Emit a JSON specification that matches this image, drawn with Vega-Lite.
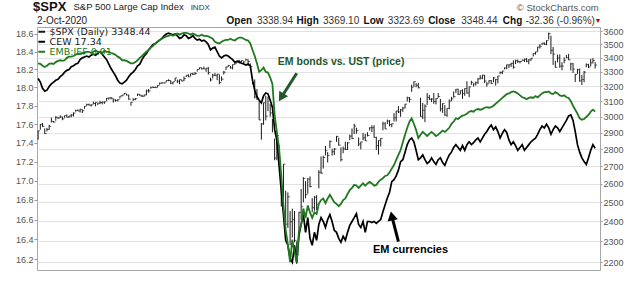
{
"$schema":"https://vega.github.io/schema/vega-lite/v6.json",
"width":563,"height":243,
"autosize":"none",
"padding":{"left":37,"top":27,"right":40,"bottom":15},
"background":"white",
"config":{"font":"Liberation Sans","view":{"stroke":"#a8a8a8","strokeWidth":1},
"axis":{"labelFont":"Liberation Sans","labelFontSize":9,"labelColor":"#555555","tickColor":"#999999","gridColor":"#e2e2e2","domain":false,"tickSize":3,"labelPadding":1}},
"data":{"values":[
{"d":"2019-10-03","h":2911,"l":2856,"c":2911,"cew":18.10,"emb":0.986},
{"d":"2019-10-04","h":2953,"l":2918,"c":2952,"cew":18.06,"emb":0.985},
{"d":"2019-10-07","h":2959,"l":2935,"c":2939,"cew":17.99,"emb":0.982},
{"d":"2019-10-08","h":2925,"l":2892,"c":2893,"cew":17.96,"emb":0.980},
{"d":"2019-10-09","h":2929,"l":2907,"c":2919,"cew":17.97,"emb":0.982},
{"d":"2019-10-10","h":2948,"l":2917,"c":2938,"cew":18.01,"emb":0.985},
{"d":"2019-10-11","h":2994,"l":2963,"c":2970,"cew":18.04,"emb":0.986},
{"d":"2019-10-14","h":2972,"l":2962,"c":2966,"cew":18.06,"emb":0.985},
{"d":"2019-10-15","h":3003,"l":2974,"c":2996,"cew":18.08,"emb":0.988},
{"d":"2019-10-16","h":2997,"l":2986,"c":2990,"cew":18.09,"emb":0.990},
{"d":"2019-10-17","h":3008,"l":2991,"c":2998,"cew":18.12,"emb":0.991},
{"d":"2019-10-18","h":3000,"l":2977,"c":2986,"cew":18.14,"emb":0.990},
{"d":"2019-10-21","h":3007,"l":2992,"c":3007,"cew":18.17,"emb":0.991},
{"d":"2019-10-22","h":3014,"l":2995,"c":2996,"cew":18.19,"emb":0.995},
{"d":"2019-10-23","h":3005,"l":2992,"c":3004,"cew":18.20,"emb":0.997},
{"d":"2019-10-24","h":3016,"l":2996,"c":3010,"cew":18.23,"emb":0.997},
{"d":"2019-10-25","h":3027,"l":3001,"c":3023,"cew":18.24,"emb":0.998},
{"d":"2019-10-28","h":3044,"l":3032,"c":3039,"cew":18.26,"emb":1.000},
{"d":"2019-10-29","h":3047,"l":3035,"c":3036,"cew":18.27,"emb":1.002},
{"d":"2019-10-30","h":3050,"l":3026,"c":3047,"cew":18.31,"emb":1.002},
{"d":"2019-10-31","h":3047,"l":3023,"c":3038,"cew":18.33,"emb":1.003},
{"d":"2019-11-01","h":3067,"l":3050,"c":3067,"cew":18.34,"emb":1.003},
{"d":"2019-11-04","h":3084,"l":3070,"c":3078,"cew":18.35,"emb":1.005},
{"d":"2019-11-05","h":3084,"l":3071,"c":3075,"cew":18.34,"emb":1.005},
{"d":"2019-11-06","h":3079,"l":3065,"c":3076,"cew":18.36,"emb":1.003},
{"d":"2019-11-07","h":3097,"l":3080,"c":3085,"cew":18.37,"emb":1.005},
{"d":"2019-11-08","h":3093,"l":3066,"c":3093,"cew":18.36,"emb":1.007},
{"d":"2019-11-11","h":3088,"l":3075,"c":3087,"cew":18.38,"emb":1.005},
{"d":"2019-11-12","h":3103,"l":3081,"c":3091,"cew":18.40,"emb":1.005},
{"d":"2019-11-13","h":3098,"l":3079,"c":3094,"cew":18.37,"emb":1.003},
{"d":"2019-11-14","h":3098,"l":3083,"c":3096,"cew":18.34,"emb":1.007},
{"d":"2019-11-15","h":3121,"l":3102,"c":3120,"cew":18.31,"emb":1.005},
{"d":"2019-11-18","h":3124,"l":3110,"c":3122,"cew":18.26,"emb":1.005},
{"d":"2019-11-19","h":3128,"l":3113,"c":3120,"cew":18.21,"emb":1.003},
{"d":"2019-11-20","h":3119,"l":3091,"c":3108,"cew":18.17,"emb":1.002},
{"d":"2019-11-21","h":3112,"l":3097,"c":3104,"cew":18.13,"emb":1.000},
{"d":"2019-11-22","h":3112,"l":3099,"c":3110,"cew":18.08,"emb":0.997},
{"d":"2019-11-25","h":3134,"l":3118,"c":3134,"cew":18.05,"emb":0.995},
{"d":"2019-11-26","h":3142,"l":3132,"c":3141,"cew":18.04,"emb":0.991},
{"d":"2019-11-27","h":3154,"l":3143,"c":3153,"cew":18.06,"emb":0.991},
{"d":"2019-11-29","h":3150,"l":3139,"c":3141,"cew":18.08,"emb":0.990},
{"d":"2019-12-02","h":3144,"l":3110,"c":3113,"cew":18.12,"emb":0.988},
{"d":"2019-12-03","h":3094,"l":3070,"c":3093,"cew":18.15,"emb":0.986},
{"d":"2019-12-04","h":3120,"l":3102,"c":3113,"cew":18.17,"emb":0.986},
{"d":"2019-12-05","h":3120,"l":3107,"c":3117,"cew":18.20,"emb":0.988},
{"d":"2019-12-06","h":3150,"l":3134,"c":3146,"cew":18.24,"emb":0.991},
{"d":"2019-12-09","h":3148,"l":3135,"c":3136,"cew":18.26,"emb":0.995},
{"d":"2019-12-10","h":3143,"l":3127,"c":3133,"cew":18.31,"emb":0.998},
{"d":"2019-12-11","h":3143,"l":3130,"c":3142,"cew":18.35,"emb":1.002},
{"d":"2019-12-12","h":3177,"l":3139,"c":3169,"cew":18.38,"emb":1.005},
{"d":"2019-12-13","h":3182,"l":3157,"c":3169,"cew":18.42,"emb":1.008},
{"d":"2019-12-16","h":3197,"l":3184,"c":3191,"cew":18.45,"emb":1.012},
{"d":"2019-12-17","h":3199,"l":3189,"c":3192,"cew":18.48,"emb":1.015},
{"d":"2019-12-18","h":3198,"l":3189,"c":3191,"cew":18.49,"emb":1.019},
{"d":"2019-12-19","h":3206,"l":3192,"c":3206,"cew":18.51,"emb":1.022},
{"d":"2019-12-20","h":3226,"l":3211,"c":3221,"cew":18.53,"emb":1.025},
{"d":"2019-12-23","h":3227,"l":3217,"c":3224,"cew":18.55,"emb":1.027},
{"d":"2019-12-24","h":3226,"l":3220,"c":3223,"cew":18.58,"emb":1.029},
{"d":"2019-12-26","h":3240,"l":3227,"c":3240,"cew":18.60,"emb":1.031},
{"d":"2019-12-27","h":3248,"l":3235,"c":3240,"cew":18.61,"emb":1.032},
{"d":"2019-12-30","h":3241,"l":3215,"c":3222,"cew":18.60,"emb":1.034},
{"d":"2019-12-31","h":3231,"l":3213,"c":3231,"cew":18.59,"emb":1.032},
{"d":"2020-01-02","h":3258,"l":3235,"c":3258,"cew":18.60,"emb":1.034},
{"d":"2020-01-03","h":3246,"l":3222,"c":3235,"cew":18.58,"emb":1.036},
{"d":"2020-01-06","h":3247,"l":3214,"c":3246,"cew":18.55,"emb":1.034},
{"d":"2020-01-07","h":3245,"l":3233,"c":3237,"cew":18.56,"emb":1.036},
{"d":"2020-01-08","h":3267,"l":3236,"c":3253,"cew":18.59,"emb":1.037},
{"d":"2020-01-09","h":3276,"l":3263,"c":3275,"cew":18.58,"emb":1.037},
{"d":"2020-01-10","h":3283,"l":3264,"c":3265,"cew":18.55,"emb":1.036},
{"d":"2020-01-13","h":3288,"l":3268,"c":3288,"cew":18.56,"emb":1.034},
{"d":"2020-01-14","h":3294,"l":3277,"c":3283,"cew":18.58,"emb":1.036},
{"d":"2020-01-15","h":3299,"l":3280,"c":3289,"cew":18.55,"emb":1.034},
{"d":"2020-01-16","h":3317,"l":3302,"c":3317,"cew":18.53,"emb":1.032},
{"d":"2020-01-17","h":3330,"l":3318,"c":3330,"cew":18.54,"emb":1.032},
{"d":"2020-01-21","h":3330,"l":3316,"c":3321,"cew":18.52,"emb":1.034},
{"d":"2020-01-22","h":3337,"l":3320,"c":3321,"cew":18.53,"emb":1.032},
{"d":"2020-01-23","h":3326,"l":3301,"c":3326,"cew":18.51,"emb":1.032},
{"d":"2020-01-24","h":3334,"l":3281,"c":3295,"cew":18.48,"emb":1.031},
{"d":"2020-01-27","h":3259,"l":3234,"c":3244,"cew":18.42,"emb":1.029},
{"d":"2020-01-28","h":3286,"l":3254,"c":3276,"cew":18.44,"emb":1.027},
{"d":"2020-01-29","h":3293,"l":3271,"c":3273,"cew":18.45,"emb":1.022},
{"d":"2020-01-30","h":3285,"l":3242,"c":3284,"cew":18.40,"emb":1.020},
{"d":"2020-01-31","h":3282,"l":3214,"c":3226,"cew":18.35,"emb":1.019},
{"d":"2020-02-03","h":3268,"l":3235,"c":3249,"cew":18.33,"emb":1.022},
{"d":"2020-02-04","h":3306,"l":3281,"c":3298,"cew":18.35,"emb":1.024},
{"d":"2020-02-05","h":3337,"l":3313,"c":3334,"cew":18.36,"emb":1.025},
{"d":"2020-02-06","h":3347,"l":3335,"c":3346,"cew":18.35,"emb":1.025},
{"d":"2020-02-07","h":3341,"l":3323,"c":3328,"cew":18.33,"emb":1.027},
{"d":"2020-02-10","h":3352,"l":3317,"c":3352,"cew":18.31,"emb":1.025},
{"d":"2020-02-11","h":3375,"l":3352,"c":3358,"cew":18.28,"emb":1.024},
{"d":"2020-02-12","h":3381,"l":3366,"c":3380,"cew":18.29,"emb":1.027},
{"d":"2020-02-13","h":3385,"l":3360,"c":3374,"cew":18.28,"emb":1.029},
{"d":"2020-02-14","h":3381,"l":3369,"c":3380,"cew":18.27,"emb":1.029},
{"d":"2020-02-18","h":3375,"l":3356,"c":3370,"cew":18.26,"emb":1.027},
{"d":"2020-02-19","h":3393,"l":3379,"c":3386,"cew":18.25,"emb":1.025},
{"d":"2020-02-20","h":3389,"l":3342,"c":3373,"cew":18.26,"emb":1.024},
{"d":"2020-02-21","h":3360,"l":3328,"c":3338,"cew":18.24,"emb":1.019},
{"d":"2020-02-24","h":3259,"l":3215,"c":3226,"cew":18.08,"emb":1.008},
{"d":"2020-02-25","h":3247,"l":3119,"c":3128,"cew":17.97,"emb":0.998},
{"d":"2020-02-26","h":3182,"l":3109,"c":3116,"cew":17.90,"emb":0.986},
{"d":"2020-02-27","h":3098,"l":2977,"c":2979,"cew":17.86,"emb":0.972},
{"d":"2020-02-28","h":2959,"l":2856,"c":2954,"cew":17.83,"emb":0.975},
{"d":"2020-03-02","h":3091,"l":2948,"c":3090,"cew":17.91,"emb":0.979},
{"d":"2020-03-03","h":3136,"l":2976,"c":3003,"cew":17.94,"emb":0.972},
{"d":"2020-03-04","h":3130,"l":3035,"c":3130,"cew":17.93,"emb":0.971},
{"d":"2020-03-05","h":3083,"l":2999,"c":3024,"cew":17.86,"emb":0.963},
{"d":"2020-03-06","h":2985,"l":2901,"c":2972,"cew":17.78,"emb":0.953},
{"d":"2020-03-09","h":2863,"l":2734,"c":2747,"cew":17.54,"emb":0.905},
{"d":"2020-03-10","h":2883,"l":2734,"c":2882,"cew":17.43,"emb":0.880},
{"d":"2020-03-11","h":2825,"l":2707,"c":2741,"cew":17.16,"emb":0.857},
{"d":"2020-03-12","h":2660,"l":2478,"c":2481,"cew":16.90,"emb":0.819},
{"d":"2020-03-13","h":2711,"l":2492,"c":2711,"cew":16.65,"emb":0.779},
{"d":"2020-03-16","h":2562,"l":2380,"c":2386,"cew":16.39,"emb":0.748},
{"d":"2020-03-17","h":2553,"l":2367,"c":2529,"cew":16.34,"emb":0.730},
{"d":"2020-03-18","h":2453,"l":2281,"c":2398,"cew":16.21,"emb":0.709},
{"d":"2020-03-19","h":2466,"l":2319,"c":2409,"cew":16.17,"emb":0.736},
{"d":"2020-03-20","h":2454,"l":2295,"c":2305,"cew":16.34,"emb":0.721},
{"d":"2020-03-23","h":2300,"l":2192,"c":2237,"cew":16.17,"emb":0.709},
{"d":"2020-03-24","h":2449,"l":2345,"c":2447,"cew":16.44,"emb":0.746},
{"d":"2020-03-25","h":2571,"l":2408,"c":2476,"cew":16.55,"emb":0.754},
{"d":"2020-03-26","h":2637,"l":2500,"c":2630,"cew":16.65,"emb":0.775},
{"d":"2020-03-27","h":2615,"l":2521,"c":2541,"cew":16.47,"emb":0.763},
{"d":"2020-03-30","h":2631,"l":2546,"c":2627,"cew":16.62,"emb":0.779},
{"d":"2020-03-31","h":2641,"l":2581,"c":2585,"cew":16.41,"emb":0.770},
{"d":"2020-04-01","h":2522,"l":2447,"c":2471,"cew":16.34,"emb":0.763},
{"d":"2020-04-02","h":2533,"l":2455,"c":2527,"cew":16.47,"emb":0.770},
{"d":"2020-04-03","h":2538,"l":2459,"c":2489,"cew":16.39,"emb":0.768},
{"d":"2020-04-06","h":2677,"l":2575,"c":2664,"cew":16.55,"emb":0.781},
{"d":"2020-04-07","h":2756,"l":2657,"c":2660,"cew":16.62,"emb":0.786},
{"d":"2020-04-08","h":2760,"l":2686,"c":2750,"cew":16.58,"emb":0.788},
{"d":"2020-04-09","h":2819,"l":2762,"c":2790,"cew":16.52,"emb":0.782},
{"d":"2020-04-13","h":2782,"l":2721,"c":2762,"cew":16.60,"emb":0.788},
{"d":"2020-04-14","h":2851,"l":2805,"c":2846,"cew":16.65,"emb":0.793},
{"d":"2020-04-15","h":2801,"l":2761,"c":2784,"cew":16.58,"emb":0.788},
{"d":"2020-04-16","h":2806,"l":2764,"c":2800,"cew":16.49,"emb":0.783},
{"d":"2020-04-17","h":2880,"l":2843,"c":2875,"cew":16.47,"emb":0.781},
{"d":"2020-04-20","h":2868,"l":2820,"c":2823,"cew":16.41,"emb":0.778},
{"d":"2020-04-21","h":2810,"l":2727,"c":2737,"cew":16.37,"emb":0.781},
{"d":"2020-04-22","h":2815,"l":2775,"c":2800,"cew":16.43,"emb":0.786},
{"d":"2020-04-23","h":2844,"l":2794,"c":2798,"cew":16.39,"emb":0.788},
{"d":"2020-04-24","h":2842,"l":2794,"c":2837,"cew":16.47,"emb":0.794},
{"d":"2020-04-27","h":2887,"l":2853,"c":2878,"cew":16.54,"emb":0.799},
{"d":"2020-04-28","h":2925,"l":2861,"c":2863,"cew":16.58,"emb":0.802},
{"d":"2020-04-29","h":2954,"l":2891,"c":2940,"cew":16.62,"emb":0.806},
{"d":"2020-04-30","h":2930,"l":2893,"c":2912,"cew":16.66,"emb":0.805},
{"d":"2020-05-01","h":2870,"l":2817,"c":2830,"cew":16.55,"emb":0.802},
{"d":"2020-05-04","h":2844,"l":2798,"c":2842,"cew":16.52,"emb":0.805},
{"d":"2020-05-05","h":2898,"l":2852,"c":2868,"cew":16.58,"emb":0.808},
{"d":"2020-05-06","h":2891,"l":2848,"c":2849,"cew":16.47,"emb":0.805},
{"d":"2020-05-07","h":2902,"l":2876,"c":2882,"cew":16.58,"emb":0.808},
{"d":"2020-05-08","h":2932,"l":2913,"c":2930,"cew":16.58,"emb":0.810},
{"d":"2020-05-11","h":2945,"l":2903,"c":2930,"cew":16.57,"emb":0.808},
{"d":"2020-05-12","h":2945,"l":2869,"c":2870,"cew":16.58,"emb":0.805},
{"d":"2020-05-13","h":2874,"l":2794,"c":2820,"cew":16.56,"emb":0.806},
{"d":"2020-05-14","h":2852,"l":2767,"c":2852,"cew":16.58,"emb":0.810},
{"d":"2020-05-15","h":2865,"l":2816,"c":2864,"cew":16.60,"emb":0.813},
{"d":"2020-05-18","h":2968,"l":2914,"c":2954,"cew":16.68,"emb":0.815},
{"d":"2020-05-19","h":2965,"l":2922,"c":2922,"cew":16.75,"emb":0.818},
{"d":"2020-05-20","h":2981,"l":2953,"c":2972,"cew":16.82,"emb":0.819},
{"d":"2020-05-21","h":2978,"l":2938,"c":2949,"cew":16.88,"emb":0.823},
{"d":"2020-05-22","h":2956,"l":2933,"c":2955,"cew":16.99,"emb":0.828},
{"d":"2020-05-26","h":3022,"l":2969,"c":2992,"cew":17.01,"emb":0.833},
{"d":"2020-05-27","h":3037,"l":2969,"c":3036,"cew":17.05,"emb":0.840},
{"d":"2020-05-28","h":3068,"l":3023,"c":3030,"cew":17.11,"emb":0.847},
{"d":"2020-05-29","h":3049,"l":2999,"c":3044,"cew":17.20,"emb":0.854},
{"d":"2020-06-01","h":3063,"l":3031,"c":3056,"cew":17.22,"emb":0.865},
{"d":"2020-06-02","h":3082,"l":3052,"c":3081,"cew":17.30,"emb":0.876},
{"d":"2020-06-03","h":3130,"l":3098,"c":3123,"cew":17.38,"emb":0.886},
{"d":"2020-06-04","h":3128,"l":3091,"c":3112,"cew":17.43,"emb":0.895},
{"d":"2020-06-05","h":3211,"l":3163,"c":3194,"cew":17.45,"emb":0.900},
{"d":"2020-06-08","h":3233,"l":3197,"c":3232,"cew":17.41,"emb":0.892},
{"d":"2020-06-09","h":3222,"l":3194,"c":3207,"cew":17.32,"emb":0.883},
{"d":"2020-06-10","h":3224,"l":3186,"c":3190,"cew":17.22,"emb":0.871},
{"d":"2020-06-11","h":3123,"l":2999,"c":3002,"cew":17.24,"emb":0.876},
{"d":"2020-06-12","h":3089,"l":2984,"c":3041,"cew":17.27,"emb":0.880},
{"d":"2020-06-15","h":3079,"l":2965,"c":3067,"cew":17.22,"emb":0.877},
{"d":"2020-06-16","h":3154,"l":3076,"c":3125,"cew":17.18,"emb":0.874},
{"d":"2020-06-17","h":3141,"l":3108,"c":3113,"cew":17.20,"emb":0.877},
{"d":"2020-06-18","h":3120,"l":3094,"c":3115,"cew":17.24,"emb":0.880},
{"d":"2020-06-19","h":3155,"l":3083,"c":3098,"cew":17.20,"emb":0.877},
{"d":"2020-06-22","h":3120,"l":3079,"c":3118,"cew":17.17,"emb":0.874},
{"d":"2020-06-23","h":3154,"l":3123,"c":3131,"cew":17.22,"emb":0.876},
{"d":"2020-06-24","h":3115,"l":3033,"c":3050,"cew":17.24,"emb":0.879},
{"d":"2020-06-25","h":3086,"l":3024,"c":3084,"cew":17.19,"emb":0.882},
{"d":"2020-06-26","h":3074,"l":3005,"c":3009,"cew":17.16,"emb":0.880},
{"d":"2020-06-29","h":3054,"l":2999,"c":3053,"cew":17.22,"emb":0.883},
{"d":"2020-06-30","h":3112,"l":3048,"c":3100,"cew":17.27,"emb":0.886},
{"d":"2020-07-01","h":3129,"l":3101,"c":3116,"cew":17.30,"emb":0.892},
{"d":"2020-07-02","h":3165,"l":3124,"c":3130,"cew":17.35,"emb":0.895},
{"d":"2020-07-06","h":3182,"l":3155,"c":3180,"cew":17.38,"emb":0.900},
{"d":"2020-07-07","h":3184,"l":3142,"c":3145,"cew":17.35,"emb":0.899},
{"d":"2020-07-08","h":3172,"l":3145,"c":3170,"cew":17.32,"emb":0.902},
{"d":"2020-07-09","h":3180,"l":3116,"c":3152,"cew":17.37,"emb":0.904},
{"d":"2020-07-10","h":3186,"l":3136,"c":3185,"cew":17.32,"emb":0.905},
{"d":"2020-07-13","h":3235,"l":3150,"c":3155,"cew":17.38,"emb":0.907},
{"d":"2020-07-14","h":3198,"l":3127,"c":3197,"cew":17.41,"emb":0.910},
{"d":"2020-07-15","h":3238,"l":3210,"c":3227,"cew":17.38,"emb":0.911},
{"d":"2020-07-16","h":3220,"l":3198,"c":3216,"cew":17.40,"emb":0.910},
{"d":"2020-07-17","h":3233,"l":3205,"c":3225,"cew":17.43,"emb":0.913},
{"d":"2020-07-20","h":3258,"l":3216,"c":3251,"cew":17.45,"emb":0.914},
{"d":"2020-07-21","h":3277,"l":3247,"c":3257,"cew":17.41,"emb":0.913},
{"d":"2020-07-22","h":3280,"l":3249,"c":3276,"cew":17.45,"emb":0.914},
{"d":"2020-07-23","h":3279,"l":3222,"c":3236,"cew":17.49,"emb":0.916},
{"d":"2020-07-24","h":3228,"l":3197,"c":3216,"cew":17.52,"emb":0.917},
{"d":"2020-07-27","h":3242,"l":3219,"c":3239,"cew":17.56,"emb":0.916},
{"d":"2020-07-28","h":3243,"l":3216,"c":3218,"cew":17.59,"emb":0.917},
{"d":"2020-07-29","h":3264,"l":3228,"c":3258,"cew":17.54,"emb":0.919},
{"d":"2020-07-30","h":3250,"l":3205,"c":3246,"cew":17.57,"emb":0.922},
{"d":"2020-07-31","h":3272,"l":3220,"c":3271,"cew":17.52,"emb":0.925},
{"d":"2020-08-03","h":3302,"l":3284,"c":3295,"cew":17.45,"emb":0.928},
{"d":"2020-08-04","h":3307,"l":3283,"c":3306,"cew":17.50,"emb":0.931},
{"d":"2020-08-05","h":3331,"l":3318,"c":3328,"cew":17.54,"emb":0.934},
{"d":"2020-08-06","h":3352,"l":3318,"c":3349,"cew":17.51,"emb":0.937},
{"d":"2020-08-07","h":3352,"l":3328,"c":3351,"cew":17.43,"emb":0.938},
{"d":"2020-08-10","h":3364,"l":3335,"c":3360,"cew":17.38,"emb":0.940},
{"d":"2020-08-11","h":3382,"l":3323,"c":3333,"cew":17.41,"emb":0.941},
{"d":"2020-08-12","h":3387,"l":3355,"c":3380,"cew":17.37,"emb":0.940},
{"d":"2020-08-13","h":3388,"l":3363,"c":3373,"cew":17.32,"emb":0.938},
{"d":"2020-08-14","h":3378,"l":3361,"c":3373,"cew":17.35,"emb":0.935},
{"d":"2020-08-17","h":3388,"l":3379,"c":3382,"cew":17.38,"emb":0.932},
{"d":"2020-08-18","h":3395,"l":3370,"c":3389,"cew":17.32,"emb":0.931},
{"d":"2020-08-19","h":3399,"l":3369,"c":3375,"cew":17.35,"emb":0.929},
{"d":"2020-08-20","h":3391,"l":3354,"c":3385,"cew":17.38,"emb":0.931},
{"d":"2020-08-21","h":3399,"l":3379,"c":3397,"cew":17.41,"emb":0.932},
{"d":"2020-08-24","h":3433,"l":3410,"c":3431,"cew":17.43,"emb":0.931},
{"d":"2020-08-25","h":3444,"l":3423,"c":3443,"cew":17.45,"emb":0.934},
{"d":"2020-08-26","h":3481,"l":3444,"c":3479,"cew":17.49,"emb":0.932},
{"d":"2020-08-27","h":3501,"l":3468,"c":3485,"cew":17.54,"emb":0.935},
{"d":"2020-08-28","h":3510,"l":3495,"c":3508,"cew":17.58,"emb":0.938},
{"d":"2020-08-31","h":3514,"l":3494,"c":3500,"cew":17.56,"emb":0.940},
{"d":"2020-09-01","h":3529,"l":3493,"c":3527,"cew":17.60,"emb":0.940},
{"d":"2020-09-02","h":3588,"l":3535,"c":3580,"cew":17.56,"emb":0.941},
{"d":"2020-09-03","h":3564,"l":3427,"c":3455,"cew":17.49,"emb":0.938},
{"d":"2020-09-04","h":3479,"l":3349,"c":3427,"cew":17.54,"emb":0.937},
{"d":"2020-09-08","h":3379,"l":3330,"c":3332,"cew":17.58,"emb":0.940},
{"d":"2020-09-09","h":3424,"l":3367,"c":3399,"cew":17.56,"emb":0.938},
{"d":"2020-09-10","h":3425,"l":3329,"c":3340,"cew":17.52,"emb":0.935},
{"d":"2020-09-11","h":3368,"l":3311,"c":3341,"cew":17.56,"emb":0.934},
{"d":"2020-09-14","h":3403,"l":3361,"c":3383,"cew":17.60,"emb":0.935},
{"d":"2020-09-15","h":3420,"l":3398,"c":3401,"cew":17.64,"emb":0.932},
{"d":"2020-09-16","h":3429,"l":3384,"c":3385,"cew":17.69,"emb":0.931},
{"d":"2020-09-17","h":3365,"l":3310,"c":3357,"cew":17.70,"emb":0.926},
{"d":"2020-09-18","h":3363,"l":3292,"c":3319,"cew":17.64,"emb":0.919},
{"d":"2020-09-21","h":3286,"l":3230,"c":3281,"cew":17.52,"emb":0.913},
{"d":"2020-09-22","h":3321,"l":3286,"c":3315,"cew":17.38,"emb":0.907},
{"d":"2020-09-23","h":3324,"l":3232,"c":3237,"cew":17.30,"emb":0.900},
{"d":"2020-09-24","h":3279,"l":3209,"c":3247,"cew":17.24,"emb":0.898},
{"d":"2020-09-25","h":3306,"l":3228,"c":3298,"cew":17.20,"emb":0.899},
{"d":"2020-09-28","h":3360,"l":3332,"c":3351,"cew":17.17,"emb":0.902},
{"d":"2020-09-29","h":3357,"l":3327,"c":3335,"cew":17.24,"emb":0.905},
{"d":"2020-09-30","h":3393,"l":3340,"c":3363,"cew":17.32,"emb":0.910},
{"d":"2020-10-01","h":3398,"l":3361,"c":3381,"cew":17.38,"emb":0.913},
{"d":"2020-10-02","h":3369,"l":3324,"c":3348,"cew":17.34,"emb":0.910}
]},
"encoding":{"x":{"field":"d","type":"ordinal","scale":{"type":"band","paddingInner":0,"paddingOuter":0.85,"align":0,"round":false},
"axis":{"title":null,"values":["2019-11-01","2019-12-02","2020-01-02","2020-02-03","2020-03-02","2020-04-01","2020-05-01","2020-06-01","2020-07-01","2020-08-03","2020-09-01","2020-10-01"],
"labelExpr":"datum.value == '2020-01-02' ? '2020' : utcFormat(toDate(datum.value), '%b')",
"labelFontWeight":{"condition":{"test":"datum.value == '2020-01-02'","value":"bold"},"value":"normal"},
"labelColor":{"condition":{"test":"datum.value == '2020-01-02'","value":"#000000"},"value":"#555555"},
"labelFontSize":{"condition":{"test":"datum.value == '2020-01-02'","value":10},"value":9},
"grid":true,"tickSize":0,"labelPadding":3,"labelAngle":0,"bandPosition":0.5}}},
"layer":[
{"mark":{"type":"rule","strokeWidth":1},
"encoding":{"y":{"field":"l","type":"quantitative","scale":{"type":"log","domain":[2164,3630.8],"nice":false,"zero":false},
"axis":{"orient":"right","title":null,"values":[2200,2300,2400,2500,2600,2700,2800,2900,3000,3100,3200,3300,3400,3500,3600],"format":"d","grid":true,"tickSize":2,"labelPadding":1}},
"y2":{"field":"h"},
"color":{"datum":"$SPX (Daily) 3348.44","type":"nominal","scale":{"domain":["$SPX (Daily) 3348.44","CEW 17.34","EMB:IEF 0.91"],"range":["#1a1a1a","#000000","#217821"]},
"legend":{"title":null,"orient":"top-left","offset":0,"padding":0,"symbolType":"stroke","symbolStrokeWidth":2,"symbolSize":45,"labelFont":"DejaVu Sans","labelFontSize":9.5,"rowPadding":-2,"labelOffset":3,"labelLimit":300,
"labelColor":{"expr":"datum.value == 'EMB:IEF 0.91' ? '#217821' : '#222222'"}}}}},
{"mark":{"type":"tick","color":"#1a1a1a","size":2,"thickness":1,"xOffset":1,"orient":"horizontal"},
"encoding":{"y":{"field":"c","type":"quantitative","scale":{"type":"log","domain":[2164,3630.8],"nice":false,"zero":false},"axis":null}}},
{"mark":{"type":"line","strokeWidth":1.7},
"encoding":{"y":{"field":"cew","type":"quantitative","scale":{"type":"log","domain":[16.094,18.68],"nice":false,"zero":false},
"axis":{"orient":"left","title":null,"values":[16.2,16.4,16.6,16.8,17.0,17.2,17.4,17.6,17.8,18.0,18.2,18.4,18.6],"format":".1f","grid":false,"tickSize":3,"labelPadding":1}},
"color":{"datum":"CEW 17.34","type":"nominal"}}},
{"mark":{"type":"line","strokeWidth":1.8},
"encoding":{"y":{"field":"emb","type":"quantitative","scale":{"type":"log","domain":[0.6999,1.0472],"nice":false,"zero":false},"axis":null},
"color":{"datum":"EMB:IEF 0.91","type":"nominal"}}},
{"data":{"values":[{}]},
"layer":[
{"mark":{"type":"rule","strokeWidth":3,"color":"#22582a"},
"encoding":{"x":{"datum":"2020-03-23","type":"ordinal","axis":null},"x2":{"datum":"2020-03-12"},"y":{"datum":3290,"type":"quantitative","scale":{"type":"log","domain":[2164,3630.8],"nice":false,"zero":false},"axis":null},"y2":{"datum":3125}}},
{"mark":{"type":"point","shape":"triangle-up","filled":true,"size":110,"angle":212,"color":"#22582a","opacity":1},
"encoding":{"x":{"datum":"2020-03-12","type":"ordinal","axis":null},"y":{"datum":3125,"type":"quantitative","scale":{"type":"log","domain":[2164,3630.8],"nice":false,"zero":false},"axis":null}}},
{"mark":{"type":"text","text":"EM bonds vs. UST (price)","align":"left","baseline":"middle","fontSize":10.5,"fontWeight":"bold","color":"#22582a","dx":1},
"encoding":{"x":{"datum":"2020-03-10","type":"ordinal","axis":null},"y":{"datum":3370,"type":"quantitative","scale":{"type":"log","domain":[2164,3630.8],"nice":false,"zero":false},"axis":null}}},
{"mark":{"type":"rule","strokeWidth":3,"color":"#000000"},
"encoding":{"x":{"datum":"2020-05-28","type":"ordinal","axis":null},"x2":{"datum":"2020-05-22"},"y":{"datum":2299,"type":"quantitative","scale":{"type":"log","domain":[2164,3630.8],"nice":false,"zero":false},"axis":null},"y2":{"datum":2428}}},
{"mark":{"type":"point","shape":"triangle-up","filled":true,"size":110,"angle":348,"color":"#000000","opacity":1},
"encoding":{"x":{"datum":"2020-05-22","type":"ordinal","axis":null},"y":{"datum":2428,"type":"quantitative","scale":{"type":"log","domain":[2164,3630.8],"nice":false,"zero":false},"axis":null}}},
{"mark":{"type":"text","text":"EM currencies","align":"left","baseline":"middle","fontSize":11,"fontWeight":"bold","color":"#000000","dx":1},
"encoding":{"x":{"datum":"2020-05-11","type":"ordinal","axis":null},"y":{"datum":2258,"type":"quantitative","scale":{"type":"log","domain":[2164,3630.8],"nice":false,"zero":false},"axis":null}}},
{"mark":{"type":"text","text":"$SPX","align":"left","baseline":"middle","fontSize":13,"fontWeight":"bold","color":"#111111","dx":-5},
"encoding":{"x":{"datum":"2019-10-03","type":"ordinal","axis":null},"y":{"datum":3789,"type":"quantitative","scale":{"type":"log","domain":[2164,3630.8],"nice":false,"zero":false},"axis":null}}},
{"mark":{"type":"text","text":"S&P 500 Large Cap Index","align":"left","baseline":"middle","fontSize":9.5,"color":"#222222"},
"encoding":{"x":{"datum":"2019-10-25","type":"ordinal","axis":null},"y":{"datum":3785,"type":"quantitative","scale":{"type":"log","domain":[2164,3630.8],"nice":false,"zero":false},"axis":null}}},
{"mark":{"type":"text","text":"INDX","align":"left","baseline":"middle","fontSize":8,"color":"#333333"},
"encoding":{"x":{"datum":"2020-01-13","type":"ordinal","axis":null},"y":{"datum":3781,"type":"quantitative","scale":{"type":"log","domain":[2164,3630.8],"nice":false,"zero":false},"axis":null}}},
{"mark":{"type":"text","text":"© StockCharts.com","align":"left","baseline":"middle","fontSize":9.5,"color":"#555555","dx":-1},
"encoding":{"x":{"datum":"2020-08-13","type":"ordinal","axis":null},"y":{"datum":3781,"type":"quantitative","scale":{"type":"log","domain":[2164,3630.8],"nice":false,"zero":false},"axis":null}}},
{"mark":{"type":"text","text":"2-Oct-2020","align":"left","baseline":"middle","fontSize":10,"color":"#222222","dx":-1},
"encoding":{"x":{"datum":"2019-10-03","type":"ordinal","axis":null},"y":{"datum":3681,"type":"quantitative","scale":{"type":"log","domain":[2164,3630.8],"nice":false,"zero":false},"axis":null}}},
{"mark":{"type":"text","text":"Open","align":"left","baseline":"middle","fontSize":10,"fontWeight":"bold","color":"#111111","dx":0.5},
"encoding":{"x":{"datum":"2020-02-05","type":"ordinal","axis":null},"y":{"datum":3681,"type":"quantitative","scale":{"type":"log","domain":[2164,3630.8],"nice":false,"zero":false},"axis":null}}},
{"mark":{"type":"text","text":"3338.94","align":"left","baseline":"middle","fontSize":10,"color":"#333333"},
"encoding":{"x":{"datum":"2020-02-26","type":"ordinal","axis":null},"y":{"datum":3681,"type":"quantitative","scale":{"type":"log","domain":[2164,3630.8],"nice":false,"zero":false},"axis":null}}},
{"mark":{"type":"text","text":"High","align":"left","baseline":"middle","fontSize":10,"fontWeight":"bold","color":"#111111","dx":2},
"encoding":{"x":{"datum":"2020-03-20","type":"ordinal","axis":null},"y":{"datum":3681,"type":"quantitative","scale":{"type":"log","domain":[2164,3630.8],"nice":false,"zero":false},"axis":null}}},
{"mark":{"type":"text","text":"3369.10","align":"left","baseline":"middle","fontSize":10,"color":"#333333","dx":2},
"encoding":{"x":{"datum":"2020-04-07","type":"ordinal","axis":null},"y":{"datum":3681,"type":"quantitative","scale":{"type":"log","domain":[2164,3630.8],"nice":false,"zero":false},"axis":null}}},
{"mark":{"type":"text","text":"Low","align":"left","baseline":"middle","fontSize":10,"fontWeight":"bold","color":"#111111","dx":0.5},
"encoding":{"x":{"datum":"2020-05-05","type":"ordinal","axis":null},"y":{"datum":3681,"type":"quantitative","scale":{"type":"log","domain":[2164,3630.8],"nice":false,"zero":false},"axis":null}}},
{"mark":{"type":"text","text":"3323.69","align":"left","baseline":"middle","fontSize":10,"color":"#333333","dx":0.5},
"encoding":{"x":{"datum":"2020-05-20","type":"ordinal","axis":null},"y":{"datum":3681,"type":"quantitative","scale":{"type":"log","domain":[2164,3630.8],"nice":false,"zero":false},"axis":null}}},
{"mark":{"type":"text","text":"Close","align":"left","baseline":"middle","fontSize":10,"fontWeight":"bold","color":"#111111","dx":1},
"encoding":{"x":{"datum":"2020-06-16","type":"ordinal","axis":null},"y":{"datum":3681,"type":"quantitative","scale":{"type":"log","domain":[2164,3630.8],"nice":false,"zero":false},"axis":null}}},
{"mark":{"type":"text","text":"3348.44","align":"left","baseline":"middle","fontSize":10,"color":"#333333","dx":1},
"encoding":{"x":{"datum":"2020-07-08","type":"ordinal","axis":null},"y":{"datum":3681,"type":"quantitative","scale":{"type":"log","domain":[2164,3630.8],"nice":false,"zero":false},"axis":null}}},
{"mark":{"type":"text","text":"Chg","align":"left","baseline":"middle","fontSize":10,"fontWeight":"bold","color":"#111111","dx":0.5},
"encoding":{"x":{"datum":"2020-08-04","type":"ordinal","axis":null},"y":{"datum":3681,"type":"quantitative","scale":{"type":"log","domain":[2164,3630.8],"nice":false,"zero":false},"axis":null}}},
{"mark":{"type":"text","text":"-32.36 (-0.96%)","align":"left","baseline":"middle","fontSize":10,"color":"#333333","dx":1},
"encoding":{"x":{"datum":"2020-08-18","type":"ordinal","axis":null},"y":{"datum":3681,"type":"quantitative","scale":{"type":"log","domain":[2164,3630.8],"nice":false,"zero":false},"axis":null}}},
{"mark":{"type":"text","text":"▼","align":"left","baseline":"middle","fontSize":7,"color":"#c00000","dx":1.5},
"encoding":{"x":{"datum":"2020-10-01","type":"ordinal","axis":null},"y":{"datum":3681,"type":"quantitative","scale":{"type":"log","domain":[2164,3630.8],"nice":false,"zero":false},"axis":null}}}
],
"resolve":{"scale":{"y":"shared"}}}
],
"resolve":{"scale":{"y":"independent"}}
}
